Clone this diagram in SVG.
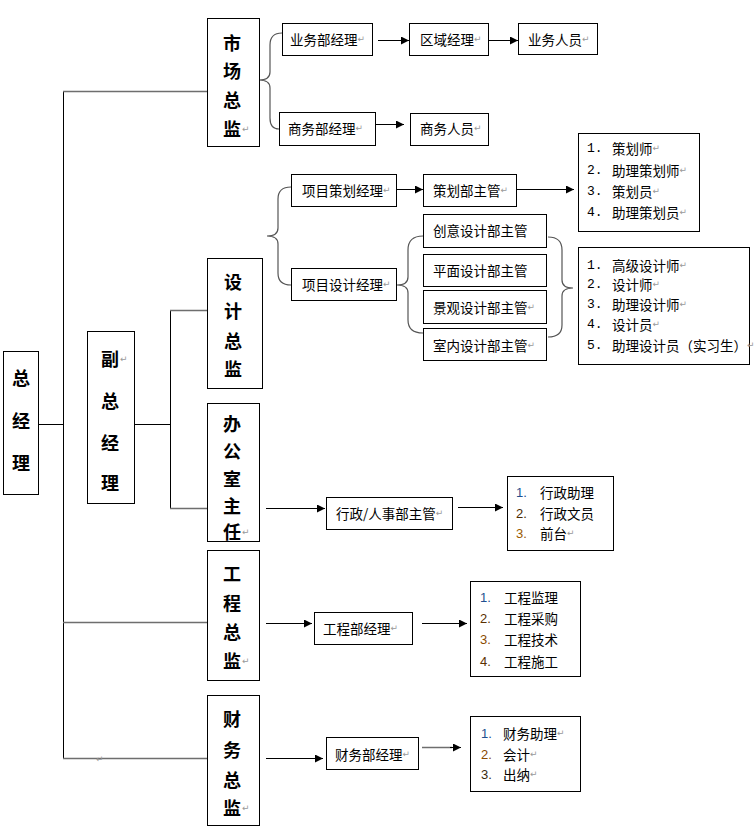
<svg xmlns="http://www.w3.org/2000/svg" width="755" height="838" viewBox="0 0 755 838">
<style>
.box{fill:#fff;stroke:#000;stroke-width:1}
.ln{fill:none;stroke:#000;stroke-width:1}
.gl{fill:none;stroke:#6e6e6e;stroke-width:1.5}
.br{fill:none;stroke:#555;stroke-width:1.2}
.v{font-family:"Noto Sans CJK SC","Noto Sans",sans-serif;font-size:18px;font-weight:700;fill:#000;text-anchor:middle;dominant-baseline:central}
.t{font-family:"Noto Sans CJK SC","Noto Sans",sans-serif;font-size:13.5px;fill:#000;dominant-baseline:central}
.n{font-family:"Liberation Mono",monospace;font-size:13px;fill:#000;dominant-baseline:central}
.s{font-family:"Liberation Sans",sans-serif;font-size:13px;dominant-baseline:central}
.r{font-family:"DejaVu Sans",sans-serif;font-size:9px;fill:#999;font-weight:400}
</style>
<defs>
<marker id="ah" viewBox="0 0 10 10" refX="10" refY="5" markerWidth="9" markerHeight="8" markerUnits="userSpaceOnUse" orient="auto"><path d="M0,0 L10,5 L0,10 z" fill="#000"/></marker>
</defs>

<g id="connectors">
<path class="ln" d="M63.5,91 V758"/>
<path class="gl" d="M63,91.5 H207"/>
<path class="ln" d="M38,424.5 H63"/>
<path class="gl" d="M63,622.5 H207"/>
<path class="gl" d="M63,758.5 H207"/>
<text class="r" x="96" y="762">↵</text>
<path class="ln" d="M134,424.5 H170"/>
<path class="ln" d="M170.5,310 V508"/>
<path class="gl" d="M170,310.5 H207"/>
<path class="gl" d="M170,508.5 H207"/>
<path class="br" d="M282,33 Q270,33 270,45 L270,72 Q270,80 259,80 Q270,80 270,88 L270,118 Q270,129 279,129"/>
<path class="ln" d="M378,40.5 H409" marker-end="url(#ah)"/>
<path class="ln" d="M488,40.5 H518" marker-end="url(#ah)"/>
<path class="ln" d="M375,124.5 H404" marker-end="url(#ah)"/>
<path class="br" d="M291,187 Q278,187 278,199 L278,228 Q278,236 267,236 Q278,236 278,244 L278,273 Q278,285 291,285"/>
<path class="ln" d="M396,189.5 H423" marker-end="url(#ah)"/>
<path class="ln" d="M517,189.5 H574" marker-end="url(#ah)"/>
<path class="br" d="M423,236 Q408,236 408,250 L408,277 Q408,285 397,285 Q408,285 408,293 L408,320 Q408,333 423,333"/>
<path class="br" d="M548,237 Q562,237 562,250 L562,280 Q562,288 573,288 Q562,288 562,296 L562,325 Q562,337 548,337"/>
<path class="ln" d="M266,508.5 H325" marker-end="url(#ah)"/>
<path class="ln" d="M458,507.5 H503" marker-end="url(#ah)"/>
<path class="ln" d="M266,623.5 H312" marker-end="url(#ah)"/>
<path class="ln" d="M422,623.5 H467" marker-end="url(#ah)"/>
<path class="ln" d="M266,758.5 H323" marker-end="url(#ah)"/>
<path class="gl" d="M422,747.5 H452"/>
<path class="ln" d="M450,747.5 H461" marker-end="url(#ah)"/>
</g>

<g id="n-zjl">
<rect class="box" x="3.5" y="351.5" width="35" height="143"/>
<text class="v" x="21" y="377">总</text>
<text class="v" x="21" y="420">经</text>
<text class="v" x="21" y="462">理</text>
</g>
<g id="n-fzjl">
<rect class="box" x="87.5" y="331.5" width="47" height="172"/>
<text class="v" x="110" y="358">副</text>
<text class="r" x="120" y="362">↵</text>
<text class="v" x="110" y="400">总</text>
<text class="v" x="110" y="442">经</text>
<text class="v" x="110" y="482">理</text>
</g>
<g id="n-sczj">
<rect class="box" x="207.5" y="18.5" width="52" height="128"/>
<text class="v" x="232" y="42">市</text>
<text class="v" x="232" y="70">场</text>
<text class="v" x="232" y="99">总</text>
<text class="v" x="232" y="128">监</text>
<text class="r" x="242" y="132">↵</text>
</g>
<g id="n-sjzj">
<rect class="box" x="207.5" y="258.5" width="55" height="130"/>
<text class="v" x="233" y="281">设</text>
<text class="v" x="233" y="310">计</text>
<text class="v" x="233" y="340">总</text>
<text class="v" x="233" y="368">监</text>
</g>
<g id="n-bgszr">
<rect class="box" x="207.5" y="403.5" width="52" height="138"/>
<text class="v" x="232" y="423">办</text>
<text class="v" x="232" y="450">公</text>
<text class="v" x="232" y="478">室</text>
<text class="v" x="232" y="505">主</text>
<text class="v" x="232" y="531">任</text>
<text class="r" x="242" y="535">↵</text>
</g>
<g id="n-gczj">
<rect class="box" x="207.5" y="550.5" width="52" height="130"/>
<text class="v" x="232" y="573">工</text>
<text class="v" x="232" y="602">程</text>
<text class="v" x="232" y="631">总</text>
<text class="v" x="232" y="660">监</text>
<text class="r" x="242" y="664">↵</text>
</g>
<g id="n-cwzj">
<rect class="box" x="207.5" y="695.5" width="52" height="130"/>
<text class="v" x="232" y="718">财</text>
<text class="v" x="232" y="749">务</text>
<text class="v" x="232" y="779">总</text>
<text class="v" x="232" y="807">监</text>
<text class="r" x="242" y="811">↵</text>
</g>

<g id="n-ywbjl">
<rect class="box" x="282.5" y="23.5" width="90" height="32"/>
<text class="t" x="290" y="39">业务部经理<tspan class="r">↵</tspan></text>
</g>
<g id="n-qyjl">
<rect class="box" x="409.5" y="23.5" width="79" height="32"/>
<text class="t" x="420" y="39">区域经理<tspan class="r">↵</tspan></text>
</g>
<g id="n-ywry">
<rect class="box" x="518.5" y="23.5" width="79" height="31"/>
<text class="t" x="528" y="39">业务人员<tspan class="r">↵</tspan></text>
</g>
<g id="n-swbjl">
<rect class="box" x="279.5" y="112.5" width="96" height="33"/>
<text class="t" x="288" y="128">商务部经理<tspan class="r">↵</tspan></text>
</g>
<g id="n-swry">
<rect class="box" x="410.5" y="113.5" width="78" height="32"/>
<text class="t" x="420" y="128">商务人员<tspan class="r">↵</tspan></text>
</g>

<g id="n-xmchjl">
<rect class="box" x="291.5" y="174.5" width="105" height="32"/>
<text class="t" x="302" y="190">项目策划经理<tspan class="r">↵</tspan></text>
</g>
<g id="n-chbzg">
<rect class="box" x="423.5" y="174.5" width="93" height="32"/>
<text class="t" x="433" y="190">策划部主管<tspan class="r">↵</tspan></text>
</g>
<g id="n-chlist">
<rect class="box" x="578.5" y="133.5" width="121" height="98"/>
<text class="n" x="587" y="148">1.</text><text class="t" x="612" y="148">策划师<tspan class="r">↵</tspan></text>
<text class="n" x="587" y="170">2.</text><text class="t" x="612" y="170">助理策划师<tspan class="r">↵</tspan></text>
<text class="n" x="587" y="191">3.</text><text class="t" x="612" y="191">策划员<tspan class="r">↵</tspan></text>
<text class="n" x="587" y="212">4.</text><text class="t" x="612" y="212">助理策划员<tspan class="r">↵</tspan></text>
</g>
<g id="n-xmsjjl">
<rect class="box" x="291.5" y="268.5" width="105" height="32"/>
<text class="t" x="302" y="284">项目设计经理<tspan class="r">↵</tspan></text>
</g>
<g id="n-cysj">
<rect class="box" x="423.5" y="214.5" width="123" height="33"/>
<text class="t" x="433" y="230">创意设计部主管</text>
</g>
<g id="n-pmsj">
<rect class="box" x="423.5" y="254.5" width="123" height="32"/>
<text class="t" x="433" y="270">平面设计部主管</text>
</g>
<g id="n-jgsj">
<rect class="box" x="423.5" y="290.5" width="123" height="33"/>
<text class="t" x="433" y="307">景观设计部主管<tspan class="r">↵</tspan></text>
</g>
<g id="n-snsj">
<rect class="box" x="423.5" y="328.5" width="123" height="32"/>
<text class="t" x="433" y="345">室内设计部主管<tspan class="r">↵</tspan></text>
</g>
<g id="n-sjlist">
<rect class="box" x="578.5" y="247.5" width="171" height="117"/>
<text class="n" x="587" y="265">1.</text><text class="t" x="612" y="265">高级设计师<tspan class="r">↵</tspan></text>
<text class="n" x="587" y="284">2.</text><text class="t" x="612" y="284">设计师<tspan class="r">↵</tspan></text>
<text class="n" x="587" y="304">3.</text><text class="t" x="612" y="304">助理设计师<tspan class="r">↵</tspan></text>
<text class="n" x="587" y="324">4.</text><text class="t" x="612" y="324">设计员<tspan class="r">↵</tspan></text>
<text class="n" x="587" y="345">5.</text><text class="t" x="612" y="345">助理设计员（实习生）<tspan class="r">↵</tspan></text>
</g>

<g id="n-xzrs">
<rect class="box" x="326.5" y="497.5" width="126" height="32"/>
<text class="t" x="336" y="513">行政/人事部主管<tspan class="r">↵</tspan></text>
</g>
<g id="n-xzlist">
<rect class="box" x="507.5" y="476.5" width="106" height="74"/>
<text class="s" x="516" y="492" fill="#1f4f8f">1.</text><text class="t" x="540" y="492">行政助理</text>
<text class="s" x="516" y="513" fill="#4a2a00">2.</text><text class="t" x="540" y="513">行政文员</text>
<text class="s" x="516" y="533" fill="#9a5a00">3.</text><text class="t" x="540" y="533">前台<tspan class="r">↵</tspan></text>
</g>

<g id="n-gcbjl">
<rect class="box" x="314.5" y="612.5" width="98" height="32"/>
<text class="t" x="323" y="628">工程部经理<tspan class="r">↵</tspan></text>
</g>
<g id="n-gclist">
<rect class="box" x="470.5" y="581.5" width="110" height="95"/>
<text class="s" x="480" y="597" fill="#1f4f8f">1.</text><text class="t" x="504" y="597">工程监理</text>
<text class="s" x="480" y="618" fill="#5a3000">2.</text><text class="t" x="504" y="618">工程采购</text>
<text class="s" x="480" y="639" fill="#8a4a00">3.</text><text class="t" x="504" y="639">工程技术</text>
<text class="s" x="480" y="661" fill="#5a3000">4.</text><text class="t" x="504" y="661">工程施工</text>
</g>

<g id="n-cwbjl">
<rect class="box" x="326.5" y="737.5" width="92" height="32"/>
<text class="t" x="335" y="754">财务部经理<tspan class="r">↵</tspan></text>
</g>
<g id="n-cwlist">
<rect class="box" x="470.5" y="716.5" width="110" height="75"/>
<text class="s" x="481" y="733" fill="#1f4f8f">1.</text><text class="t" x="503" y="733">财务助理<tspan class="r">↵</tspan></text>
<text class="s" x="481" y="754" fill="#8a4a00">2.</text><text class="t" x="503" y="754">会计<tspan class="r">↵</tspan></text>
<text class="s" x="481" y="774" fill="#3a2a10">3.</text><text class="t" x="503" y="774">出纳<tspan class="r">↵</tspan></text>
</g>
</svg>
